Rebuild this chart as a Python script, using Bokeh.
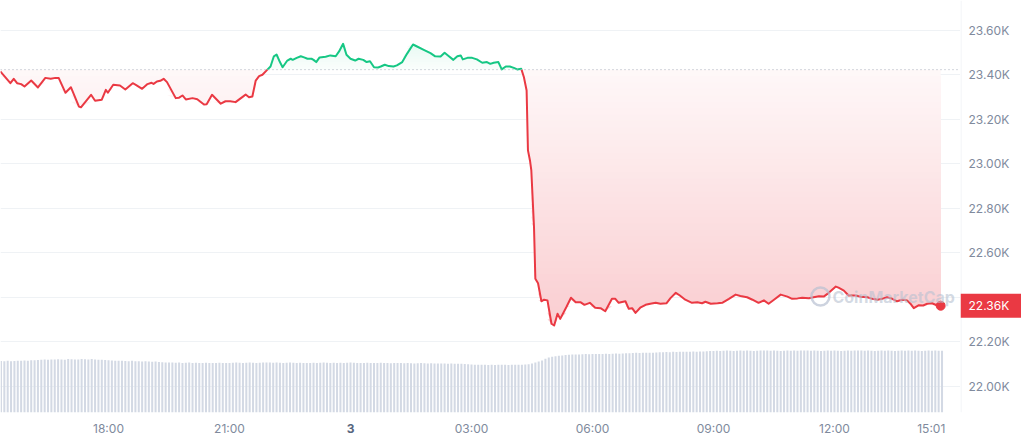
import numpy as np
from bokeh.plotting import figure
from bokeh.models import Range1d, FixedTicker, Span, LinearAxis
from bokeh.layouts import row
from bokeh.core.properties import value
from bokeh.embed import file_html
from bokeh.resources import INLINE

# ---------------- data ----------------
# price series: minutes relative to 00:00 of the 3rd, BTC price in USD
times_min = [-521, -506, -501, -496, -490, -485, -475, -465, -454, -446,
             -439, -434, -424, -416, -404, -401, -386, -380, -370, -364,
             -361, -353, -343, -335, -324, -320, -310, -302, -296, -293,
             -288, -283, -278, -273, -260, -255, -250, -245, -235, -228,
             -218, -214, -206, -193, -186, -179, -171, -159, -156, -151,
             -146, -141, -136, -131, -124, -119, -114, -110, -105, -101,
             -94, -89, -86, -80, -74, -69, -64, -58, -55, -51,
             -46, -37, -30, -22, -17, -11, -6, 0, 7, 12,
             19, 24, 29, 35, 41, 45, 51, 57, 64, 69,
             77, 84, 93, 99, 109, 119, 126, 134, 140, 145,
             153, 159, 164, 167, 174, 181, 188, 196, 203, 208,
             213, 220, 225, 231, 237, 243, 248, 254, 258, 262,
             264, 267, 269, 273, 275, 279, 284, 288, 293, 299,
             303, 308, 312, 321, 328, 335, 342, 348, 356, 364,
             372, 379, 389, 394, 399, 409, 414, 419, 424, 431,
             439, 446, 454, 461, 470, 476, 484, 490, 498, 508,
             516, 523, 528, 536, 546, 553, 563, 573, 580, 590,
             598, 607, 615, 622, 630, 640, 650, 657, 665, 672,
             682, 689, 697, 704, 712, 722, 726, 734, 741, 751,
             759, 769, 776, 784, 791, 798, 806, 813, 821, 828,
             833, 838, 845, 852, 858, 865, 873, 878]
prices = [23416, 23363, 23383, 23363, 23359, 23348, 23375, 23344, 23387, 23383,
          23387, 23386, 23320, 23345, 23258, 23255, 23311, 23284, 23289, 23333,
          23320, 23356, 23353, 23335, 23363, 23357, 23338, 23359, 23365, 23360,
          23371, 23374, 23383, 23368, 23296, 23298, 23308, 23290, 23296, 23291,
          23267, 23269, 23311, 23271, 23282, 23282, 23278, 23305, 23312, 23300,
          23303, 23375, 23395, 23401, 23423, 23438, 23484, 23492, 23458, 23435,
          23465, 23473, 23468, 23477, 23484, 23479, 23473, 23473, 23468, 23458,
          23479, 23482, 23488, 23484, 23506, 23540, 23491, 23473, 23465, 23473,
          23468, 23458, 23462, 23435, 23434, 23438, 23446, 23440, 23438, 23443,
          23458, 23495, 23537, 23528, 23513, 23498, 23484, 23483, 23500, 23488,
          23468, 23484, 23488, 23470, 23477, 23477, 23470, 23455, 23458, 23450,
          23455, 23458, 23425, 23438, 23438, 23432, 23425, 23428, 23390, 23330,
          23061, 23016, 22971, 22716, 22484, 22464, 22383, 22390, 22387, 22282,
          22274, 22327, 22304, 22356, 22399, 22379, 22379, 22367, 22376, 22354,
          22352, 22338, 22394, 22394, 22376, 22383, 22349, 22352, 22331, 22354,
          22367, 22372, 22376, 22372, 22374, 22397, 22421, 22409, 22390, 22376,
          22379, 22374, 22381, 22372, 22374, 22376, 22394, 22413, 22407, 22401,
          22390, 22376, 22387, 22372, 22390, 22413, 22404, 22394, 22396, 22399,
          22397, 22401, 22406, 22404, 22422, 22449, 22444, 22431, 22409, 22409,
          22403, 22401, 22394, 22390, 22394, 22401, 22394, 22383, 22390, 22387,
          22372, 22352, 22365, 22364, 22372, 22374, 22364, 22363]
open_price = 23424  # 24h-ago reference price (dotted line)

# 5-minute volume bars (24h rolling volume, $B)
vol_start, vol_step = -520, 5
volume = [
    32.2, 32.0, 32.3, 32.1, 32.2, 32.4, 32.3, 32.5, 32.4, 32.6, 32.7, 32.8,
    33.0, 33.1, 32.9, 33.2, 33.1, 33.3, 33.2, 33.0, 33.4, 33.3, 33.1, 33.2,
    33.5, 33.3, 33.2, 33.4, 33.1, 33.0, 32.9, 32.8, 32.7,
    32.5, 32.4, 32.3, 32.4, 32.2, 32.1, 32.3, 32.0, 32.1, 31.9, 32.0, 31.8,
    31.7, 31.8, 31.6,
    31.4, 31.3, 31.2, 31.3, 31.1, 31.2, 31.0, 31.1, 31.2, 31.0,
    31.1, 30.9, 31.0, 31.1, 31.0, 30.9, 31.0, 31.1, 31.0, 30.9,
    31.0, 31.1, 31.2, 31.1, 31.0, 31.1, 31.2, 31.1, 31.0, 31.1,
    31.2, 31.3, 31.2, 31.1, 31.2, 31.1, 31.0, 31.1, 31.2, 31.1,
    31.0, 31.1, 31.0, 30.9, 31.0, 31.1, 31.0, 31.1, 31.2, 31.1,
    31.0, 31.1, 31.0, 31.1, 31.0, 31.1, 31.2, 31.1, 31.0, 30.9,
    31.0, 31.1, 31.0, 30.9, 31.0, 31.1, 31.0, 30.9, 30.8, 30.9,
    31.0, 30.9, 30.8, 30.9, 30.8, 30.7, 30.8, 30.9, 30.8, 30.7,
    30.8, 30.7, 30.6, 30.7, 30.6, 30.5, 30.6, 30.5, 30.4, 30.5,
    30.3, 30.2,
    30.0, 29.9, 29.8, 29.9, 29.8, 29.7, 29.8, 29.7, 29.8, 29.9,
    29.8, 29.7, 29.8, 29.9, 29.8, 29.9, 30.0, 30.2,
    30.6, 31.2, 31.8, 32.5,
    33.6, 34.4, 34.9, 35.2, 35.5, 35.6,
    35.9, 36.1, 36.2, 36.3, 36.3, 36.4, 36.5, 36.4, 36.5, 36.6,
    36.5, 36.6, 36.7, 36.6, 36.7, 36.8, 36.7, 36.8,
    37.0, 37.1, 37.2, 37.3, 37.2, 37.3, 37.4, 37.3, 37.4, 37.5,
    37.6, 37.7, 37.8, 37.7, 37.9, 37.8, 37.9, 38.0, 37.9, 38.0,
    38.1, 38.0, 38.1, 38.2, 38.3,
    38.4, 38.5, 38.6, 38.5, 38.6, 38.7, 38.6, 38.5, 38.6, 38.7,
    38.6, 38.7, 38.6, 38.5, 38.6, 38.7, 38.8, 38.7, 38.6, 38.7,
    38.6, 38.5, 38.6, 38.7, 38.6, 38.7, 38.6, 38.7, 38.8, 38.7,
    38.6, 38.7, 38.6, 38.5, 38.6, 38.7, 38.6, 38.7, 38.6, 38.5,
    38.6, 38.7, 38.6, 38.7, 38.8, 38.7, 38.6, 38.7, 38.6, 38.5,
    38.6, 38.7, 38.6, 38.7, 38.6, 38.5, 38.6, 38.7, 38.6, 38.7,
    38.6, 38.7, 38.6, 38.5, 38.6, 38.7, 38.6, 38.7, 38.6, 38.6,
]
vol_times = [vol_start + vol_step * i for i in range(len(volume))]

y_ticks = [22000, 22200, 22400, 22600, 22800, 23000, 23200, 23400, 23600]
y_tick_labels = ["22.00K", "22.20K", "22.40K", "22.60K", "22.80K",
                 "23.00K", "23.20K", "23.40K", "23.60K"]
x_tick_pos = [-360, -180, 180, 360, 540, 720, 864]
x_tick_labels = ["18:00", "21:00", "03:00", "06:00", "09:00", "12:00", "15:01"]
day_tick_pos, day_label = 0, "3"
price_tag = f"{prices[-1] / 1000:.2f}K"

RED = (234, 57, 67)
GREEN = (22, 199, 132)
RED_HEX = "#ea3943"
GREEN_HEX = "#16c784"
FONT = "Inter"
LABEL_GREY = "#808a9d"

X_RANGE = (-520.7, 907.5)
Y_RANGE = (21883.1, 23734.8)
USD_PER_PX = (Y_RANGE[1] - Y_RANGE[0]) / 412
MIN_PER_PX = (X_RANGE[1] - X_RANGE[0]) / 960


def tint(rgb, f):
    r, g, b = (round(255 - f * (255 - c)) for c in rgb)
    return f"#{r:02x}{g:02x}{b:02x}"


# ---------------- main figure ----------------
yr = Range1d(*Y_RANGE)
p = figure(width=960, height=440, x_range=Range1d(*X_RANGE), y_range=yr,
           y_axis_location=None, output_backend="svg", toolbar_location=None,
           min_border_left=0, min_border_top=0, min_border_right=0, min_border_bottom=28)
p.outline_line_color = None
p.background_fill_color = "white"
p.border_fill_color = "white"
p.extra_y_ranges = {"vol": Range1d(0, 257.5)}
p.xgrid.visible = False
p.ygrid.ticker = FixedTicker(ticks=y_ticks)
p.ygrid.grid_line_color = "#eff2f5"

xa = p.xaxis[0]
xa.ticker = FixedTicker(ticks=x_tick_pos)
xa.major_label_overrides = dict(zip(x_tick_pos, x_tick_labels))
xa.major_tick_line_color = None
xa.minor_tick_line_color = None
xa.major_tick_out = 0
xa.major_tick_in = 0
xa.axis_line_color = None
xa.major_label_standoff = 8
xa.major_label_text_font = FONT
xa.major_label_text_font_size = "12px"
xa.major_label_text_color = LABEL_GREY

# bold day label as its own axis, pulled up onto the same line
xd = LinearAxis(ticker=FixedTicker(ticks=[day_tick_pos]),
                major_label_overrides={day_tick_pos: day_label},
                major_tick_out=0, major_tick_in=0, major_tick_line_color=None,
                minor_tick_line_color=None, axis_line_color=None,
                major_label_standoff=-15, major_label_text_font=FONT,
                major_label_text_font_size="12px", major_label_text_font_style="bold",
                major_label_text_color="#58667e")
p.add_layout(xd, "below")

# volume bars
p.vbar(x=vol_times, top=volume, bottom=0, width=3.0, y_range_name="vol",
       fill_color="#d3d9e4", line_color=None)

# gradient fills between price line and reference price (opaque bands)
t = np.array(times_min, dtype=float)
pr = np.array(prices, dtype=float)
xs, ys = [t[0]], [pr[0]]
for i in range(1, len(t)):
    a, b = pr[i - 1] - open_price, pr[i] - open_price
    if a * b < 0:
        tc = t[i - 1] + (0 - a) / (b - a) * (t[i] - t[i - 1])
        xs.append(tc); ys.append(open_price)
    xs.append(t[i]); ys.append(pr[i])
xs, ys = np.array(xs), np.array(ys)

pmin, pmax = ys.min(), ys.max()
below = np.minimum(ys, open_price)
above = np.maximum(ys, open_price)
N = 40
for k in range(N):
    lev = open_price - k * (open_price - pmin) / N
    f = 0.035 + 0.215 * (k + 0.5) / N
    p.varea(x=xs, y1=np.minimum(below, lev), y2=lev, fill_color=tint(RED, f))
NG = 10
for k in range(NG):
    lev = open_price + k * (pmax - open_price) / NG
    f = 0.02 + 0.08 * (k + 0.5) / NG
    p.varea(x=xs, y1=lev, y2=np.maximum(above, lev), fill_color=tint(GREEN, f))

# reference price dotted line
p.add_layout(Span(location=open_price, dimension="width", line_color="#a7adbb",
                  line_dash="1 3", line_width=1))

# split line into above/below segments
seg_up_x, seg_up_y, seg_dn_x, seg_dn_y = [], [], [], []
cur_x, cur_y = [xs[0]], [ys[0]]
cur_up = ys[0] > open_price
for i in range(1, len(xs)):
    cur_x.append(xs[i]); cur_y.append(ys[i])
    if ys[i] == open_price and i + 1 < len(xs):
        (seg_up_x if cur_up else seg_dn_x).append(cur_x)
        (seg_up_y if cur_up else seg_dn_y).append(cur_y)
        cur_x, cur_y = [xs[i]], [ys[i]]
        cur_up = ys[i + 1] > open_price
(seg_up_x if cur_up else seg_dn_x).append(cur_x)
(seg_up_y if cur_up else seg_dn_y).append(cur_y)

p.multi_line(xs=seg_dn_x, ys=seg_dn_y, line_color=RED_HEX, line_width=2, line_join="round")
p.multi_line(xs=seg_up_x, ys=seg_up_y, line_color=GREEN_HEX, line_width=2, line_join="round")

# last point marker
p.scatter(x=[times_min[-1]], y=[prices[-1]], size=9, fill_color=RED_HEX, line_color=RED_HEX)

# watermark (kept fully inside the plotting area)
WM_X, WM_Y = 717, 22404
p.scatter(x=[WM_X - 12 * MIN_PER_PX], y=[WM_Y], size=18, marker="circle", fill_color=None,
          line_color="#b8c1d1", line_width=2.5, line_alpha=0.7)
p.text(x=[WM_X], y=[WM_Y], text=["CoinMarketCap"], text_font=value(FONT),
       text_font_size="16px", text_font_style="bold", text_color="#b8c1d1",
       text_alpha=0.6, text_baseline="middle")

# ---------------- right price-scale strip ----------------
strip_w = 61
s = figure(width=strip_w, height=440, x_range=Range1d(0, strip_w), y_range=yr,
           x_axis_location=None, y_axis_location=None, output_backend="svg",
           toolbar_location=None, min_border=0)
s.outline_line_color = None
s.background_fill_color = "white"
s.border_fill_color = "white"
s.xgrid.visible = False
s.ygrid.visible = False
s.segment(x0=[0.5], y0=[Y_RANGE[1]], x1=[0.5], y1=[Y_RANGE[0]], line_color="#eff2f5", line_width=1)
half = 12 * USD_PER_PX
shown = [(v, l) for v, l in zip(y_ticks, y_tick_labels) if abs(v - prices[-1]) > half + 6 * USD_PER_PX]
s.text(x=[8] * len(shown), y=[v for v, _ in shown], text=[l for _, l in shown],
       text_font=value(FONT), text_font_size="12px", text_color=LABEL_GREY,
       text_baseline="middle")
s.quad(left=[0], right=[strip_w], bottom=[prices[-1] - half], top=[prices[-1] + half],
       fill_color=RED_HEX, line_color=None)
s.text(x=[8], y=[prices[-1]], text=[price_tag], text_font=value(FONT),
       text_font_size="12px", text_color="white", text_baseline="middle")

layout = row(p, s)
open("out.html", "w").write(file_html(layout, INLINE))
